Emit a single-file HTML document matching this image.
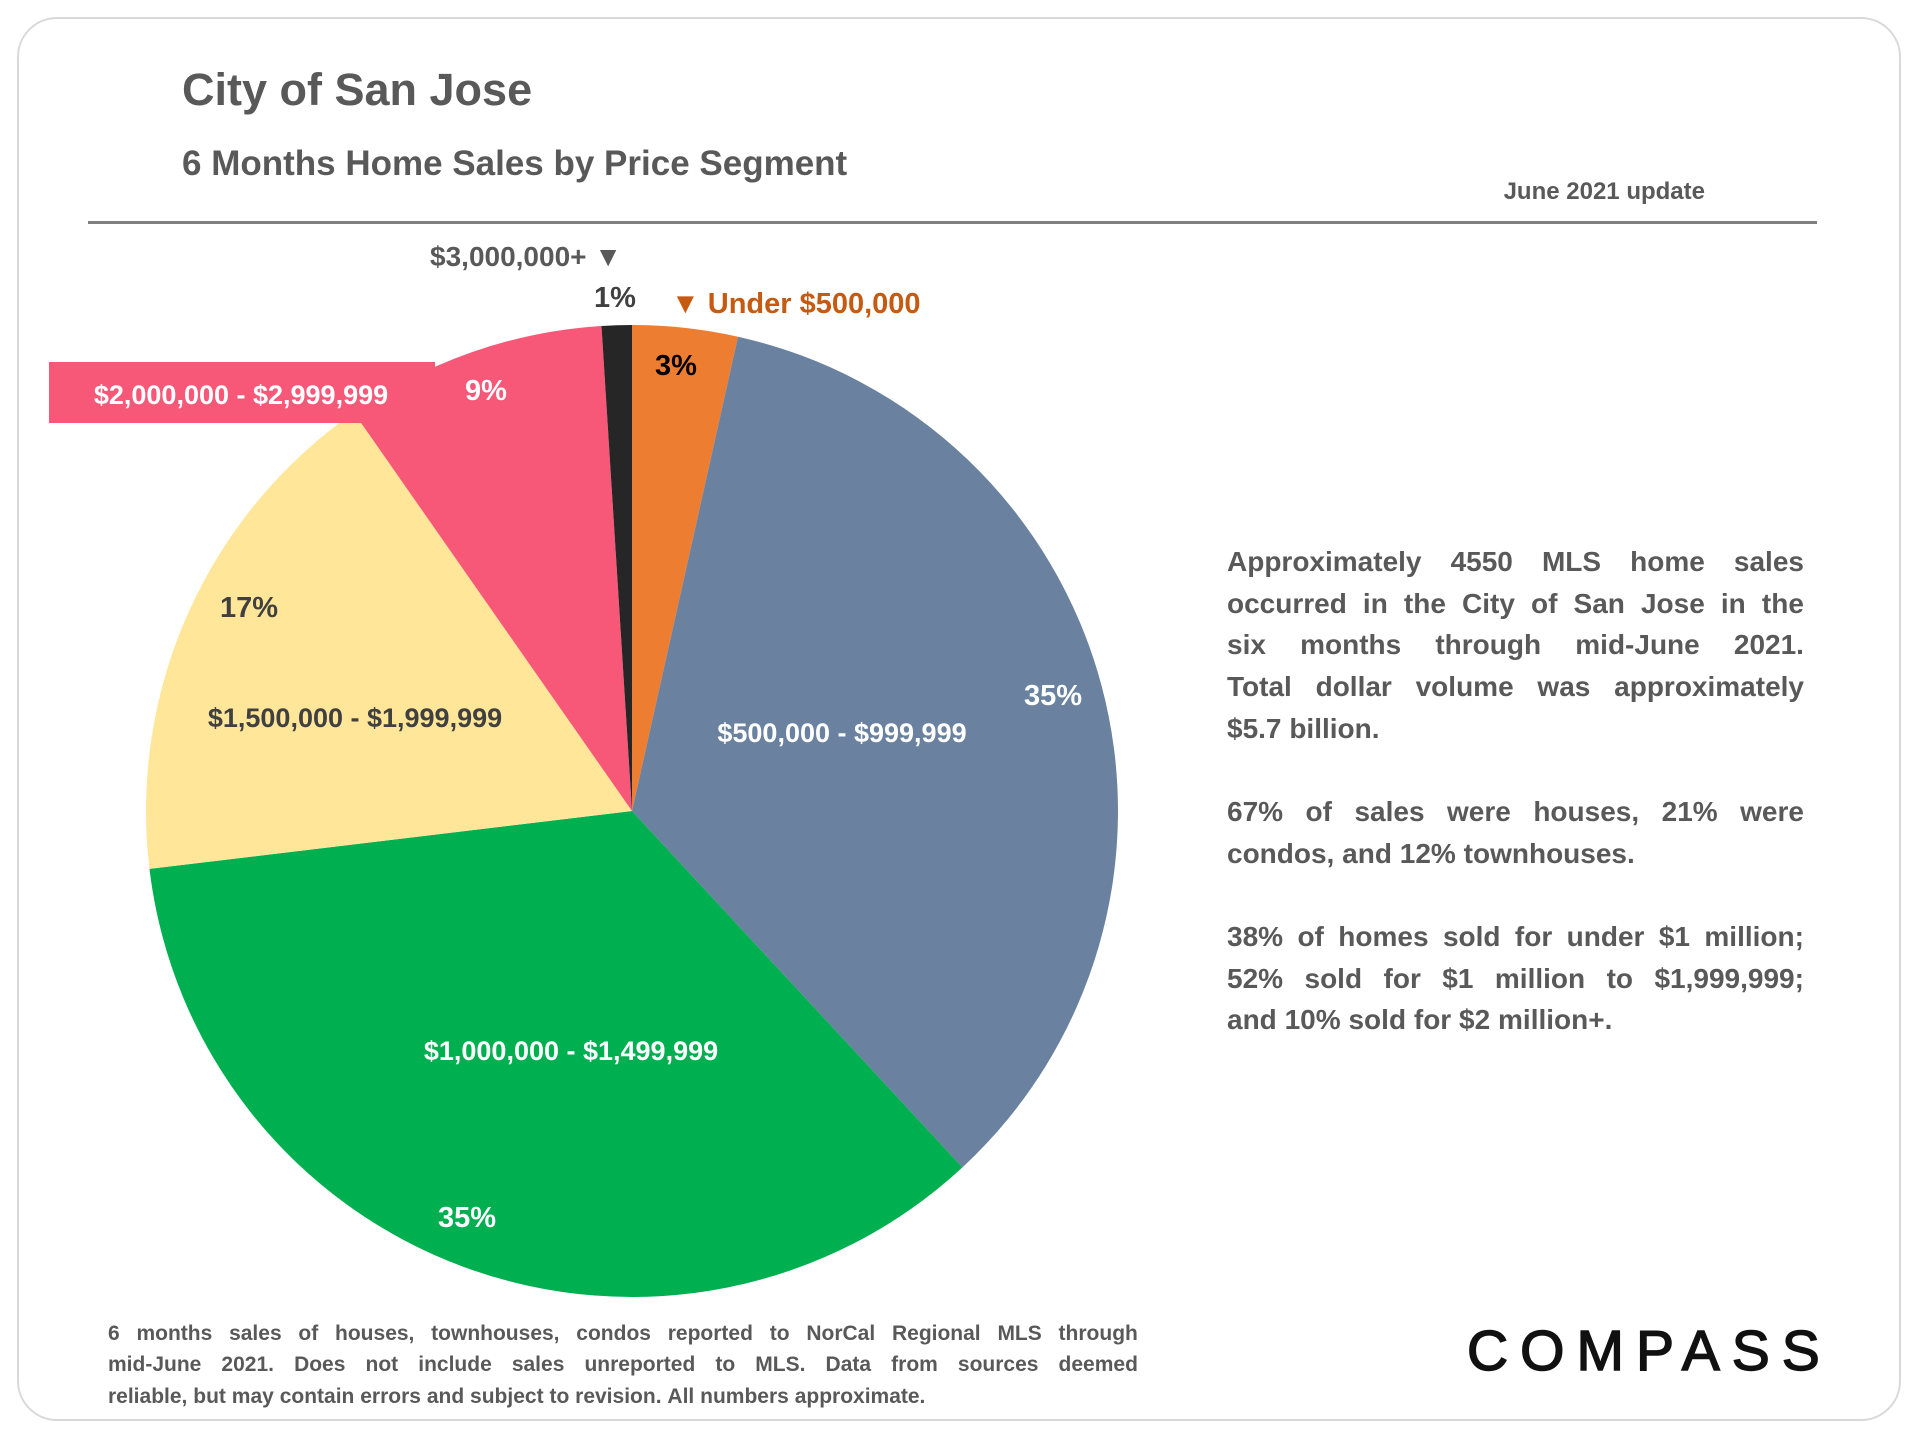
<!DOCTYPE html>
<html><head><meta charset="utf-8">
<style>
body{margin:0;width:1920px;height:1440px;background:#fff;overflow:hidden;font-family:"Liberation Sans",sans-serif;}
#card{position:absolute;left:17px;top:17px;width:1884px;height:1404px;border:2px solid #d9d9d9;border-radius:40px;box-sizing:border-box;}
.t{position:absolute;font-weight:bold;color:#595959;white-space:nowrap;}
.line{position:absolute;display:flex;justify-content:space-between;font-weight:bold;color:#595959;white-space:nowrap;}
.ll{justify-content:flex-start;gap:0.28em;}
</style></head><body>
<div id="card"></div>
<div class="t" style="left:182px;top:64px;font-size:45px;">City of San Jose</div>
<div class="t" style="left:182px;top:144px;font-size:35px;">6 Months Home Sales by Price Segment</div>
<div class="t" style="right:215px;top:178px;font-size:24px;">June 2021 update</div>
<div style="position:absolute;left:88px;top:221px;width:1729px;height:3px;background:#7f7f7f;"></div>

<svg id="pie" width="1920" height="1440" style="position:absolute;left:0;top:0;">
<g id="slices"></g>
<rect x="49" y="362" width="386" height="61" fill="#F75878"/>
<g id="labels" font-family="Liberation Sans, sans-serif" font-weight="bold"></g>
</svg>

<div>
<div class="line" style="left:1227px;top:546px;width:577px;font-size:28px;"><span>Approximately</span><span>4550</span><span>MLS</span><span>home</span><span>sales</span></div>
<div class="line" style="left:1227px;top:588px;width:577px;font-size:28px;"><span>occurred</span><span>in</span><span>the</span><span>City</span><span>of</span><span>San</span><span>Jose</span><span>in</span><span>the</span></div>
<div class="line" style="left:1227px;top:629px;width:577px;font-size:28px;"><span>six</span><span>months</span><span>through</span><span>mid-June</span><span>2021.</span></div>
<div class="line" style="left:1227px;top:671px;width:577px;font-size:28px;"><span>Total</span><span>dollar</span><span>volume</span><span>was</span><span>approximately</span></div>
<div class="line ll" style="left:1227px;top:713px;width:577px;font-size:28px;"><span>$5.7</span><span>billion.</span></div>
<div class="line" style="left:1227px;top:796px;width:577px;font-size:28px;"><span>67%</span><span>of</span><span>sales</span><span>were</span><span>houses,</span><span>21%</span><span>were</span></div>
<div class="line ll" style="left:1227px;top:838px;width:577px;font-size:28px;"><span>condos,</span><span>and</span><span>12%</span><span>townhouses.</span></div>
<div class="line" style="left:1227px;top:921px;width:577px;font-size:28px;"><span>38%</span><span>of</span><span>homes</span><span>sold</span><span>for</span><span>under</span><span>$1</span><span>million;</span></div>
<div class="line" style="left:1227px;top:963px;width:577px;font-size:28px;"><span>52%</span><span>sold</span><span>for</span><span>$1</span><span>million</span><span>to</span><span>$1,999,999;</span></div>
<div class="line ll" style="left:1227px;top:1004px;width:577px;font-size:28px;"><span>and</span><span>10%</span><span>sold</span><span>for</span><span>$2</span><span>million+.</span></div>
</div>

<div>
<div class="line" style="left:108px;top:1322px;width:1030px;font-size:21px;"><span>6</span><span>months</span><span>sales</span><span>of</span><span>houses,</span><span>townhouses,</span><span>condos</span><span>reported</span><span>to</span><span>NorCal</span><span>Regional</span><span>MLS</span><span>through</span></div>
<div class="line" style="left:108px;top:1353px;width:1030px;font-size:21px;"><span>mid-June</span><span>2021.</span><span>Does</span><span>not</span><span>include</span><span>sales</span><span>unreported</span><span>to</span><span>MLS.</span><span>Data</span><span>from</span><span>sources</span><span>deemed</span></div>
<div class="line ll" style="left:108px;top:1385px;width:1030px;font-size:21px;"><span>reliable,</span><span>but</span><span>may</span><span>contain</span><span>errors</span><span>and</span><span>subject</span><span>to</span><span>revision.</span><span>All</span><span>numbers</span><span>approximate.</span></div>
</div>

<div style="position:absolute;left:1467px;top:1318px;font-size:57px;letter-spacing:12px;color:#111;-webkit-text-stroke:1.5px #111;font-family:'Liberation Sans',sans-serif;">COMPASS</div>

<script>
const categories = ["Under $500,000","$500,000 - $999,999","$1,000,000 - $1,499,999","$1,500,000 - $1,999,999","$2,000,000 - $2,999,999","$3,000,000+"];
const shares = [3.5, 34.6, 35.0, 17.2, 8.7, 1.0];
const pctLabels = ["3%","35%","35%","17%","9%","1%"];
const colors = ["#ED7D31","#6A829F","#00B050","#FFE699","#F75878","#262626"];
const CX=632, CY=811, R=486;
const NS="http://www.w3.org/2000/svg";
const total = shares.reduce((a,b)=>a+b,0);
function pt(frac,r){const a=frac*2*Math.PI;return [CX+r*Math.sin(a),CY-r*Math.cos(a)];}
const g=document.getElementById('slices');
let cum=0;
shares.forEach((v,i)=>{
  const f0=cum/total, f1=(cum+v)/total; cum+=v;
  const p0=pt(f0,R), p1=pt(f1,R);
  const large=(f1-f0)>0.5?1:0;
  const p=document.createElementNS(NS,'path');
  p.setAttribute('d',`M${CX},${CY} L${p0[0]},${p0[1]} A${R},${R} 0 ${large} 1 ${p1[0]},${p1[1]} Z`);
  p.setAttribute('fill',colors[i]);
  
  
  g.appendChild(p);
});
const L=document.getElementById('labels');
function txt(s,x,y,size,fill,anchor,name){
  const t=document.createElementNS(NS,'text');
  t.setAttribute('x',x);t.setAttribute('y',y);t.setAttribute('font-size',size);
  t.setAttribute('fill',fill);t.setAttribute('text-anchor',anchor);
  
  
  t.textContent=s;L.appendChild(t);
}
txt(categories[5]+" \u25BC",622,266,28,"#595959","end","label-3m-plus");
txt(pctLabels[5],615,307,29,"#404040","middle","pct-3m-plus");
txt("\u25BC "+categories[0],671,313,29,"#C55A11","start","label-under-500k");
txt(pctLabels[0],676,375,29,"#000","middle","pct-under-500k");
txt(categories[4],241,404,27,"#fff","middle","label-2m-3m");
txt(pctLabels[4],486,400,29,"#fff","middle","pct-2m-3m");
txt(pctLabels[3],249,617,29,"#404040","middle","pct-1.5m-2m");
txt(categories[3],355,727,27,"#404040","middle","label-1.5m-2m");
txt(categories[1],842,742,27,"#fff","middle","label-500k-1m");
txt(pctLabels[1],1053,705,29,"#fff","middle","pct-500k-1m");
txt(categories[2],571,1060,27,"#fff","middle","label-1m-1.5m");
txt(pctLabels[2],467,1227,29,"#fff","middle","pct-1m-1.5m");
</script>
</body></html>
